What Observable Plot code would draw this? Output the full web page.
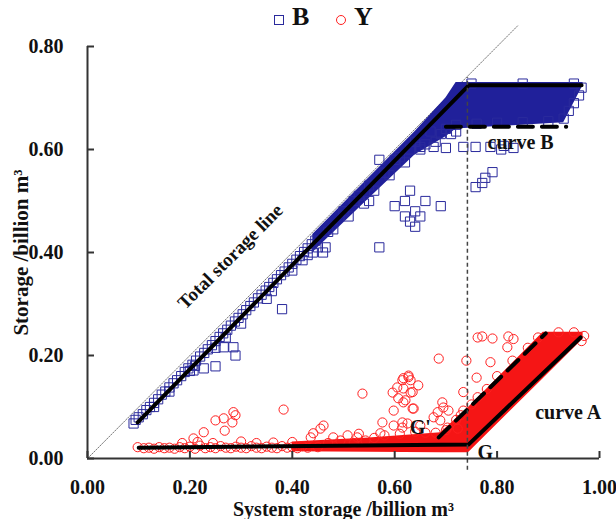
<!DOCTYPE html>
<html><head><meta charset="utf-8">
<script src="https://cdn.jsdelivr.net/npm/d3@7"></script>
<script src="https://cdn.jsdelivr.net/npm/@observablehq/plot@0.6"></script>
<style>
body{margin:0;background:#fff;}
#wrap{position:relative;width:616px;height:519px;font-family:"Liberation Serif","Times New Roman",serif;}
#legend{position:absolute;top:0;left:0;width:616px;height:36px;font-weight:bold;font-size:26px;color:#111;}
#legend span{position:absolute;}
</style></head><body>
<div id="wrap"><div id="legend"></div></div>
<script>
// ---------- data ----------
const xTicks = [0, 0.2, 0.4, 0.6, 0.8, 1.0];
const yTicks = [0, 0.2, 0.4, 0.6, 0.8];
const seriesNames = ["B", "Y"];
const xLabel = "System storage /billion m³";
const yLabel = "Storage /billion m³";

// B storage (blue squares) [system storage, B storage]
const bPoints = [
  [0.090,0.068],[0.094,0.075],[0.100,0.080],[0.108,0.086],[0.115,0.094],[0.122,0.100],[0.130,0.108],[0.138,0.115],
  [0.145,0.124],[0.152,0.130],[0.160,0.138],[0.168,0.146],[0.175,0.152],[0.183,0.160],[0.190,0.168],[0.197,0.175],
  [0.205,0.182],[0.212,0.190],[0.220,0.198],[0.228,0.205],[0.235,0.212],[0.243,0.220],[0.250,0.228],[0.258,0.236],
  [0.265,0.243],[0.273,0.250],[0.280,0.258],[0.288,0.266],[0.295,0.273],[0.303,0.280],[0.310,0.288],[0.318,0.296],
  [0.325,0.303],[0.333,0.311],[0.340,0.318],[0.348,0.326],[0.355,0.333],[0.363,0.341],[0.370,0.348],[0.378,0.356],
  [0.385,0.363],[0.393,0.371],[0.400,0.378],[0.408,0.386],[0.415,0.393],[0.423,0.401],[0.430,0.408],[0.438,0.416],
  [0.445,0.423],[0.13,0.100],[0.16,0.130],[0.20,0.170],[0.21,0.180],[0.25,0.215],[0.27,0.235],[0.30,0.262],
  [0.35,0.310],[0.36,0.325],[0.40,0.365],[0.42,0.385],[0.44,0.400],[0.45,0.410],[0.43,0.395],[0.46,0.400],[0.465,0.410],
  [0.207,0.171],[0.227,0.175],[0.250,0.179],[0.266,0.216],[0.285,0.216],[0.289,0.200],[0.380,0.290],
  [0.570,0.410],[0.600,0.490],[0.620,0.470],[0.630,0.460],[0.640,0.480],[0.650,0.470],[0.660,0.500],[0.620,0.500],
  [0.640,0.450],[0.630,0.520],[0.550,0.500],[0.690,0.490],[0.758,0.527],[0.771,0.535],[0.777,0.545],[0.791,0.556],
  [0.650,0.600],[0.676,0.605],[0.700,0.603],[0.734,0.605],[0.758,0.605],[0.787,0.605],[0.813,0.607],[0.832,0.603],
  [0.808,0.600],[0.570,0.580],[0.600,0.580],[0.630,0.600],[0.660,0.610],[0.680,0.615],[0.550,0.530],[0.520,0.500],
  [0.500,0.480],[0.470,0.440],[0.530,0.510],[0.580,0.555],[0.610,0.585],[0.640,0.615],[0.690,0.630],[0.710,0.630],
  [0.720,0.635],[0.670,0.635],[0.720,0.648],[0.760,0.650],[0.800,0.652],[0.850,0.653],[0.900,0.655],[0.930,0.660],
  [0.940,0.675],[0.950,0.690],[0.960,0.705],[0.965,0.720],[0.750,0.728],[0.850,0.728],[0.950,0.728],
  [0.480,0.445],[0.510,0.470],[0.540,0.495],[0.560,0.520],[0.590,0.550],[0.620,0.575],[0.650,0.605],[0.700,0.640]
];
// dense B cloud: x, lower edge, upper edge
const bDenseX  = [0.44, 0.55, 0.64, 0.70, 0.72, 0.93, 0.968];
const bDenseLo = [0.400, 0.505, 0.590, 0.625, 0.640, 0.652, 0.725];
const bDenseHi = [0.435, 0.545, 0.635, 0.700, 0.730, 0.730, 0.730];

// Y storage (red circles)
const yPoints = [
  [0.098,0.022],[0.110,0.020],[0.120,0.021],[0.130,0.019],[0.140,0.022],[0.150,0.020],[0.160,0.021],[0.170,0.019],
  [0.180,0.022],[0.190,0.020],[0.200,0.023],[0.210,0.019],[0.220,0.025],[0.230,0.020],[0.240,0.022],[0.250,0.020],
  [0.260,0.024],[0.270,0.021],[0.280,0.020],[0.290,0.023],[0.300,0.021],[0.310,0.020],[0.320,0.024],[0.330,0.021],
  [0.340,0.020],[0.350,0.023],[0.360,0.021],[0.370,0.020],[0.380,0.024],[0.390,0.021],[0.400,0.022],[0.410,0.020],
  [0.420,0.024],[0.430,0.021],[0.450,0.022],[0.185,0.030],[0.215,0.032],[0.245,0.030],[0.300,0.033],[0.330,0.030],
  [0.250,0.074],[0.266,0.078],[0.285,0.090],[0.289,0.084],[0.283,0.070],[0.268,0.054],[0.227,0.051],[0.207,0.039],
  [0.383,0.095],[0.363,0.031],[0.461,0.064],[0.455,0.058],[0.441,0.049],[0.436,0.041],[0.537,0.126],[0.576,0.070],
  [0.598,0.064],[0.615,0.070],[0.596,0.128],[0.605,0.138],[0.615,0.152],[0.627,0.158],[0.631,0.128],[0.607,0.117],
  [0.598,0.093],[0.635,0.097],[0.617,0.109],[0.508,0.045],[0.527,0.041],[0.543,0.035],[0.480,0.041],[0.494,0.035],
  [0.572,0.049],[0.762,0.235],[0.771,0.237],[0.791,0.233],[0.822,0.237],[0.832,0.232],[0.820,0.216],[0.686,0.194],
  [0.787,0.187],[0.760,0.157],[0.734,0.129],[0.762,0.119],[0.617,0.156],[0.627,0.161],[0.631,0.152],[0.646,0.142],
  [0.617,0.136],[0.635,0.129],[0.621,0.113],[0.637,0.097],[0.693,0.109],[0.695,0.099],[0.684,0.090],[0.676,0.080],
  [0.705,0.093],[0.689,0.074],[0.729,0.084],[0.734,0.093],[0.625,0.068],[0.615,0.060],[0.650,0.064],[0.703,0.060],
  [0.723,0.058],[0.740,0.190],[0.660,0.050],[0.560,0.040],[0.520,0.030],[0.470,0.030],[0.700,0.055],[0.720,0.075],
  [0.750,0.105],[0.780,0.135],[0.800,0.160],[0.830,0.190],[0.860,0.215],[0.880,0.235],[0.920,0.245],[0.950,0.245],
  [0.970,0.238],[0.965,0.228],[0.580,0.045],[0.610,0.048],[0.640,0.052],[0.680,0.050],[0.530,0.048],[0.400,0.032]
];
// dense Y cloud: x, lower edge, upper edge
const yDenseX  = [0.40, 0.55, 0.69, 0.744, 0.89, 0.968];
const yDenseLo = [0.013, 0.012, 0.011, 0.011, 0.155, 0.232];
const yDenseHi = [0.032, 0.040, 0.050, 0.099, 0.245, 0.245];

// reference lines
const totalLineX = [0, 0.84];
const totalLineY = [0, 0.84];
const curveBX = [0.098, 0.745, 0.965];
const curveBY = [0.070, 0.725, 0.725];
const curveBDashX = [0.700, 0.935];
const curveBDashY = [0.644, 0.644];
const curveAX = [0.100, 0.744, 0.963];
const curveAY = [0.021, 0.027, 0.235];
const curveADashX = [0.686, 0.895];
const curveADashY = [0.041, 0.243];
const gLineX = 0.742;
const gLineY = [-0.023, 0.740];

// annotations
const noteText = ["curve B", "curve A", "G'", "G"];
const noteX = [0.846, 0.939, 0.650, 0.777];
const noteY = [0.614, 0.089, 0.060, 0.012];
const totalText = "Total storage line";
const totalTextXY = [0.279, 0.392];

// ---------- build ----------
const blue = "#2a2a9c", blueDense = "#20209a", red = "#ff1f1f", redDense = "#f51515";
const pts = (arr) => arr.map(([x, y]) => ({x, y}));
const band = (xs, lo, hi) => xs.map((x, i) => ({x, lo: lo[i], hi: hi[i]}));
const path = (xs, ys) => xs.map((x, i) => ({x, y: ys[i]}));
const notes = noteText.map((t, i) => ({t, x: noteX[i], y: noteY[i]}));

const W = 616, H = 519, mL = 87, mR = 17, mT = 46, mB = 61;
const innerW = W - mL - mR, innerH = H - mT - mB;

const chart = Plot.plot({
  width: W, height: H,
  marginLeft: mL, marginRight: mR, marginTop: mT, marginBottom: mB,
  x: {domain: [0, 1], axis: null},
  y: {domain: [0, 0.8], axis: null},
  style: {fontFamily: "'Liberation Serif','Times New Roman',serif", fontWeight: "bold", fontSize: "20px", color: "#111", background: "#fff"},
  marks: [
    Plot.line(path(totalLineX, totalLineY), {x: "x", y: "y", stroke: "#777", strokeWidth: 1, strokeDasharray: "1.5,1.5"}),
    Plot.areaY(band(bDenseX, bDenseLo, bDenseHi), {x: "x", y1: "lo", y2: "hi", fill: blueDense, curve: "linear"}),
    Plot.dot(pts(bPoints), {x: "x", y: "y", symbol: "square", r: 5.2, stroke: blue, strokeWidth: 1, fill: "none"}),
    Plot.areaY(band(yDenseX, yDenseLo, yDenseHi), {x: "x", y1: "lo", y2: "hi", fill: redDense, curve: "linear"}),
    Plot.dot(pts(yPoints), {x: "x", y: "y", symbol: "circle", r: 4.6, stroke: red, strokeWidth: 1, fill: "none"}),
    Plot.line(path(curveBX, curveBY), {x: "x", y: "y", stroke: "#000", strokeWidth: 4}),
    Plot.line(path(curveBDashX, curveBDashY), {x: "x", y: "y", stroke: "#000", strokeWidth: 4, strokeDasharray: "15,9"}),
    Plot.line(path(curveAX, curveAY), {x: "x", y: "y", stroke: "#000", strokeWidth: 4}),
    Plot.line(path(curveADashX, curveADashY), {x: "x", y: "y", stroke: "#000", strokeWidth: 4, strokeDasharray: "15,9"}),
    Plot.ruleX([gLineX], {y1: gLineY[0], y2: gLineY[1], stroke: "#444", strokeWidth: 1.5, strokeDasharray: "4,3"}),
    // axes
    Plot.ruleX([0], {y1: 0, y2: 0.8, stroke: "#333", strokeWidth: 2}),
    Plot.ruleY([0], {x1: 0, x2: 1, stroke: "#333", strokeWidth: 2}),
    Plot.tickY(yTicks, {y: d => d, insetRight: innerW - 7, stroke: "#333", strokeWidth: 2}),
    Plot.tickX(xTicks, {x: d => d, insetTop: innerH - 7, stroke: "#333", strokeWidth: 2}),
    Plot.axisX(xTicks, {tickSize: 0, tickPadding: 21, tickFormat: d3.format(".2f"), label: null, fill: "#111"}),
    Plot.axisY(yTicks, {tickSize: 0, tickPadding: 24, tickFormat: d3.format(".2f"), label: null, fill: "#111"}),
    Plot.text([xLabel], {frameAnchor: "bottom", dy: 57, text: d => d, fill: "#111", fontSize: 20, textAnchor: "middle", lineAnchor: "bottom"}),
    Plot.text([yLabel], {frameAnchor: "left", dx: -66, rotate: -90, text: d => d, fill: "#111", fontSize: 21, textAnchor: "middle", lineAnchor: "middle"}),
    // annotations
    Plot.text(notes, {x: "x", y: "y", text: "t", fill: "#111", fontSize: 20}),
    Plot.text([totalText], {x: () => totalTextXY[0], y: () => totalTextXY[1], text: d => d, rotate: -45, fill: "#111", fontSize: 19})
  ]
});
document.getElementById("wrap").appendChild(chart);

// legend (HTML, overlaid above the plot frame)
const legend = document.getElementById("legend");
const legendItems = [
  {name: seriesNames[0], color: blue, shape: "square", left: 274},
  {name: seriesNames[1], color: red, shape: "circle", left: 336}
];
for (const it of legendItems) {
  const m = document.createElement("span");
  m.style.cssText = `left:${it.left}px;top:15px;width:8px;height:8px;border:1.3px solid ${it.color};${it.shape === "circle" ? "border-radius:50%;" : ""}`;
  legend.appendChild(m);
  const t = document.createElement("span");
  t.textContent = it.name;
  t.style.cssText = `left:${it.left + 18}px;top:2px;line-height:30px;`;
  legend.appendChild(t);
}
</script>
</body></html>
